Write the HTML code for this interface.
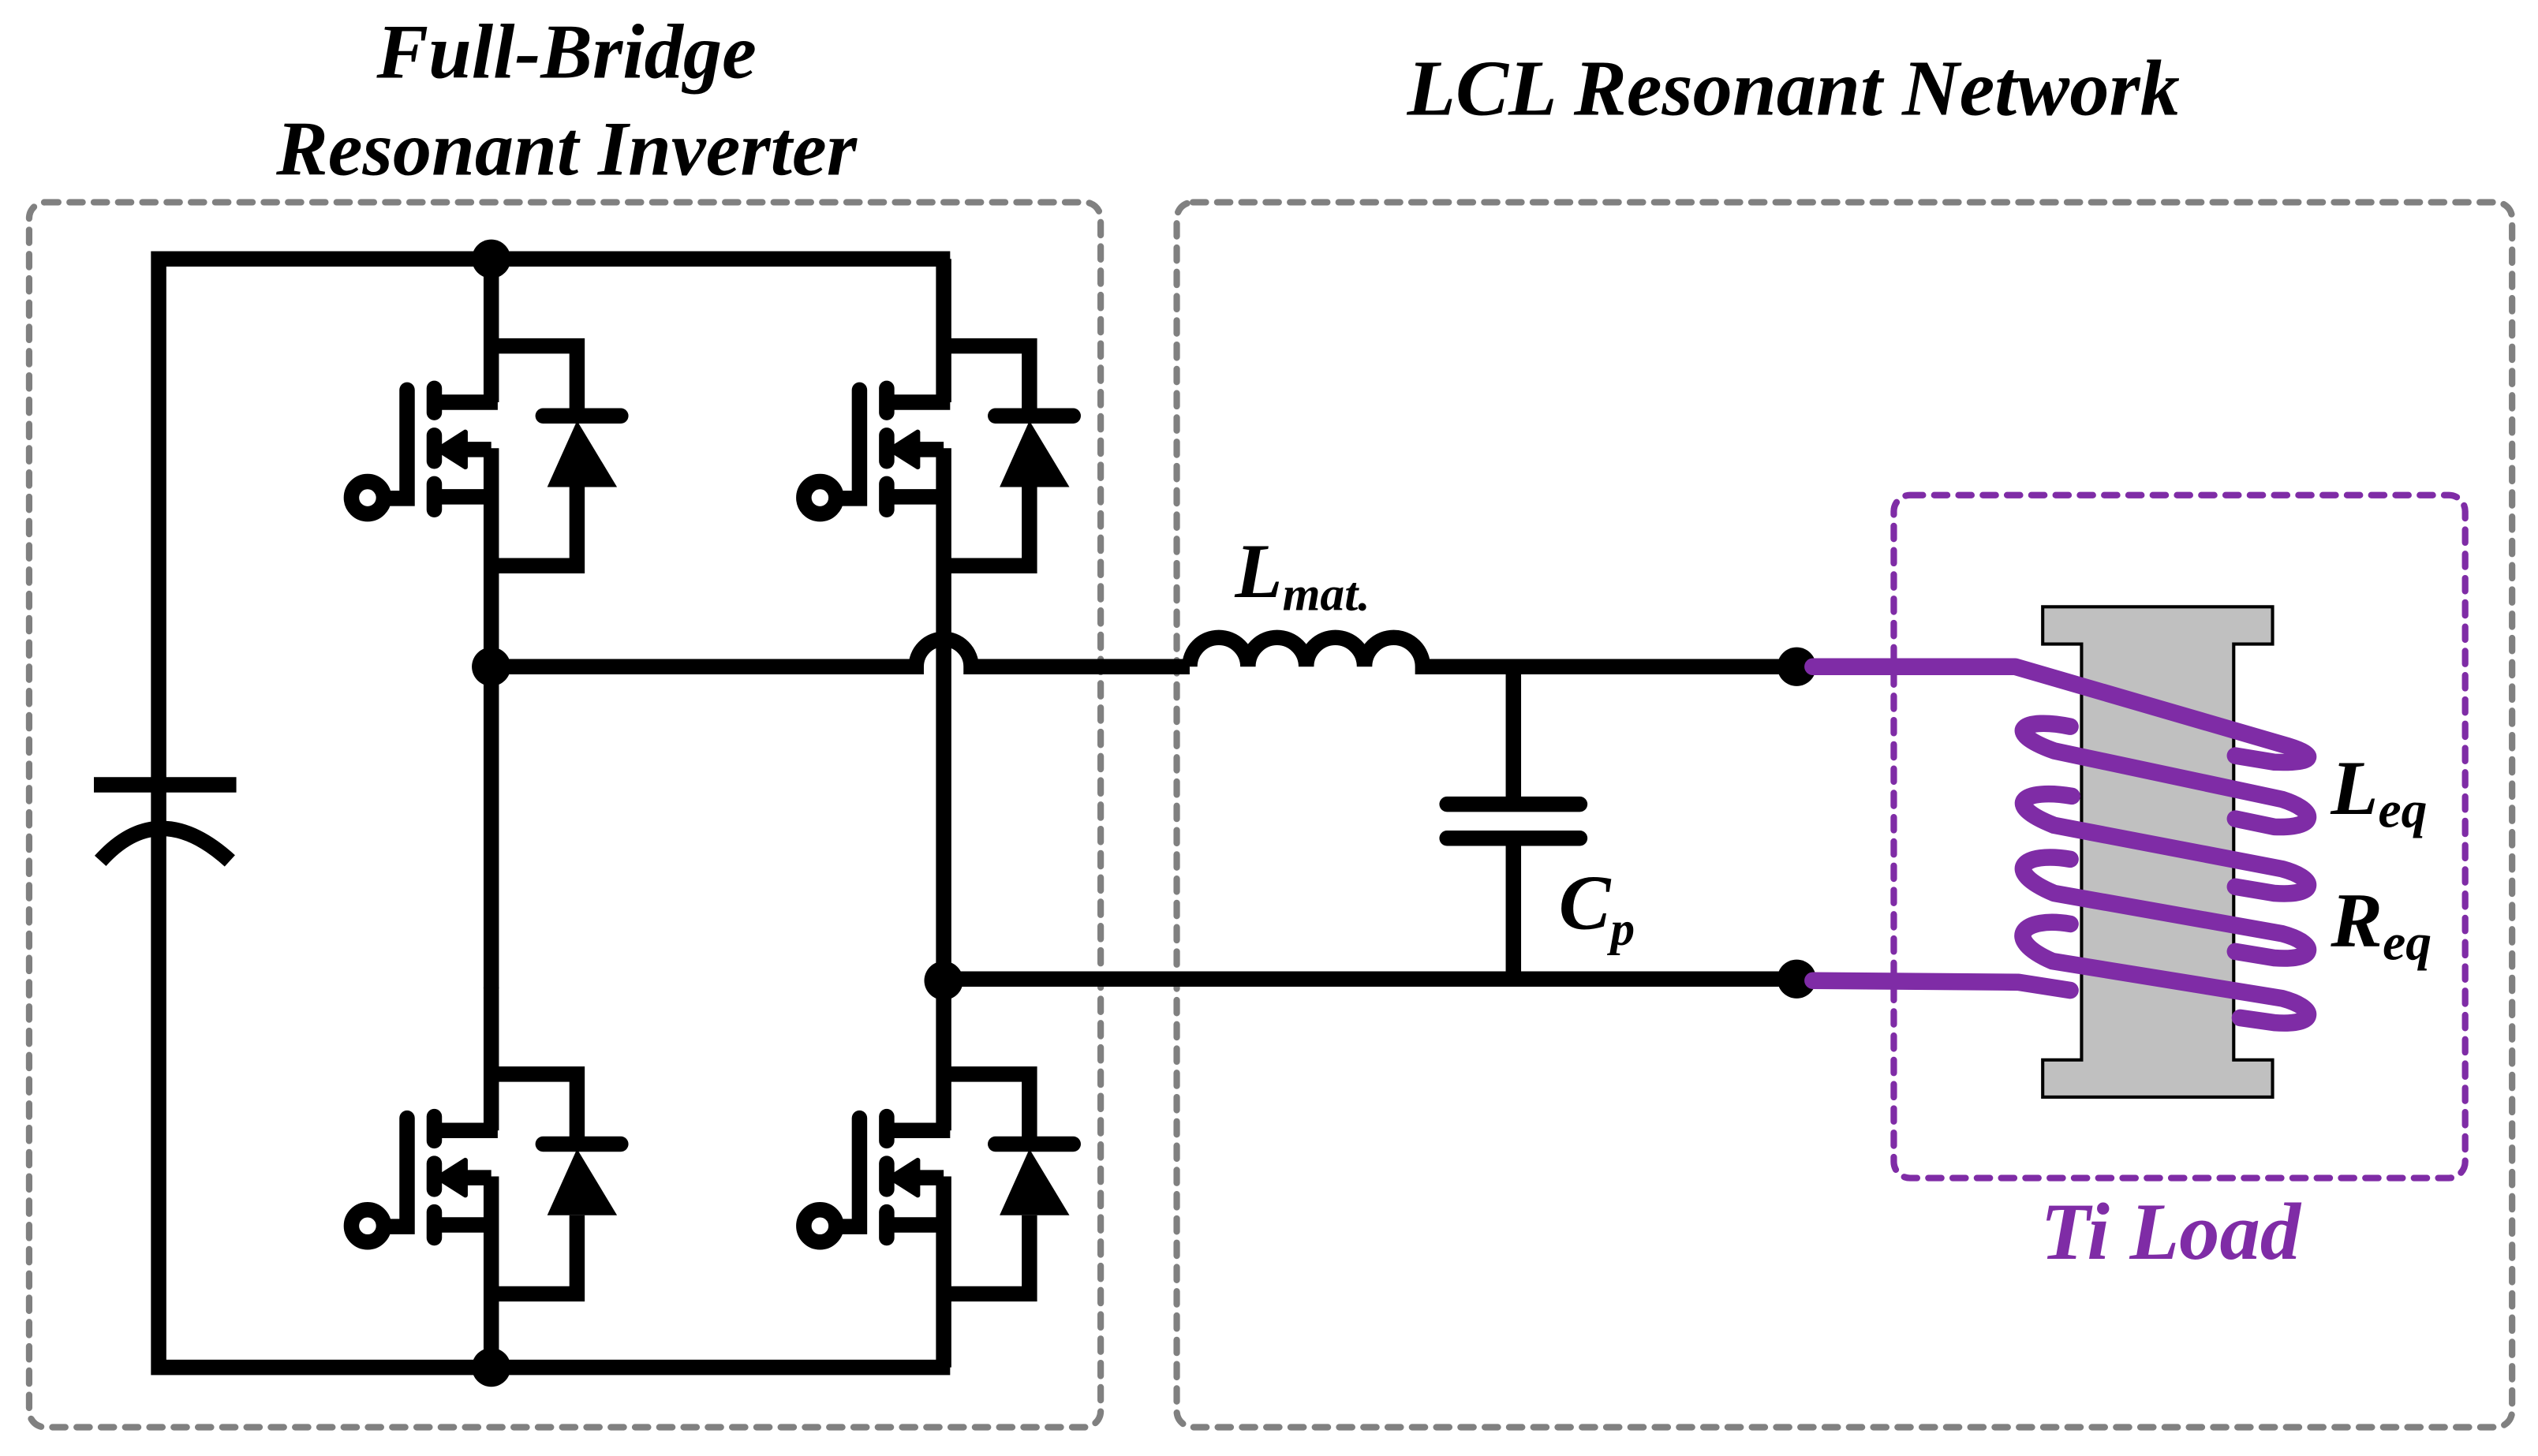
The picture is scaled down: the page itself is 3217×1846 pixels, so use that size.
<!DOCTYPE html>
<html><head><meta charset="utf-8"><style>
html,body{margin:0;padding:0;background:#fff;}
svg{display:block;}
text{font-family:"Liberation Serif",serif;font-weight:bold;font-style:italic;}
</style></head><body>
<svg width="3217" height="1846" viewBox="0 0 1568 899.8" preserveAspectRatio="none" xmlns="http://www.w3.org/2000/svg">
<defs>
<g id="m" stroke="#000" stroke-width="9.5" fill="none">
  <line x1="0" y1="0" x2="0" y2="88.6"/>
  <line x1="-36" y1="88.6" x2="4" y2="88.6"/>
  <line x1="-35.2" y1="80" x2="-35.2" y2="95" stroke-linecap="round"/>
  <line x1="-35.2" y1="109" x2="-35.2" y2="125" stroke-linecap="round"/>
  <line x1="-35.2" y1="139" x2="-35.2" y2="155" stroke-linecap="round"/>
  <line x1="-25" y1="117.8" x2="0" y2="117.8"/>
  <polygon points="-33,117.8 -16,107 -16,128.6" fill="#000" stroke-width="3" stroke-linejoin="round"/>
  <line x1="-35" y1="147" x2="4" y2="147"/>
  <polyline points="-52,81 -52,148 -66,148" stroke-linecap="round"/>
  <circle cx="-76.4" cy="147.6" r="10" fill="#fff"/>
  <polyline points="0,53.8 53,53.8 53,97"/>
  <line x1="32" y1="97" x2="80" y2="97" stroke-linecap="round"/>
  <polygon points="53,100 34.6,141 77.7,141" fill="#000" stroke="none"/>
  <polyline points="53,141 53,189.6 0,189.6"/>
</g>
</defs>
<rect x="18" y="125" width="662" height="757" rx="10" fill="none" stroke="#808080" stroke-width="4" stroke-dasharray="8,7" stroke-linecap="round"/>
<rect x="727" y="125" width="825" height="757" rx="10" fill="none" stroke="#808080" stroke-width="4" stroke-dasharray="8,7" stroke-linecap="round"/>
<rect x="1170" y="306" width="353" height="422" rx="10" fill="none" stroke="#7f2ca6" stroke-width="4" stroke-dasharray="8,7" stroke-linecap="round"/>
<text x="350" y="48" font-size="48" text-anchor="middle">Full-Bridge</text>
<text x="350" y="108" font-size="48" text-anchor="middle">Resonant Inverter</text>
<text x="1108" y="71" font-size="49" text-anchor="middle">LCL Resonant Network</text>
<text x="1341" y="778" font-size="50" text-anchor="middle" fill="#7f2ca6">Ti Load</text>
<g stroke="#000" stroke-width="9.5" fill="none">
  <polyline points="303.5,160 98,160 98,845 303.5,845"/>
  <line x1="303.5" y1="160" x2="587" y2="160"/>
  <line x1="303.5" y1="845" x2="587" y2="845"/>
  <line x1="58" y1="485" x2="146" y2="485"/>
  <path d="M62,532 Q98,492 142,532"/>
  <line x1="303.5" y1="277" x2="303.5" y2="611"/>
  <line x1="303.5" y1="727" x2="303.5" y2="845"/>
  <line x1="583" y1="277" x2="583" y2="611"/>
  <line x1="583" y1="727" x2="583" y2="845"/>
  <path d="M303.5,412 L566,412 A17,17 0 0 1 600,412 L735,412"/>
  <path d="M735,412 a18,18 0 0 1 36,0 a18,18 0 0 1 36,0 a18,18 0 0 1 36,0 a18,18 0 0 1 36,0 L1110,412"/>
  <polyline points="935,412 935,497"/>
  <line x1="894" y1="497" x2="976" y2="497" stroke-linecap="round"/>
  <line x1="894" y1="518" x2="976" y2="518" stroke-linecap="round"/>
  <line x1="935" y1="518" x2="935" y2="605"/>
  <line x1="583" y1="605" x2="1110" y2="605"/>
</g>
<use href="#m" x="303.5" y="160"/>
<use href="#m" x="303.5" y="610"/>
<use href="#m" x="583" y="160"/>
<use href="#m" x="583" y="610"/>
<g fill="#000">
  <circle cx="303.5" cy="160" r="12"/>
  <circle cx="303.5" cy="412" r="12"/>
  <circle cx="303.5" cy="845" r="12"/>
  <circle cx="583" cy="606" r="12"/>
  <circle cx="1110" cy="412" r="12"/>
  <circle cx="1110" cy="605" r="12"/>
</g>
<path d="M1262,375 H1404 V398 H1380 V655 H1404 V678 H1262 V655 H1286 V398 H1262 Z" fill="#c0c0c0" stroke="#000" stroke-width="2"/>
<g stroke="#7f2ca6" stroke-width="10.5" fill="none" stroke-linecap="round" stroke-linejoin="round">
  <path d="M1120,412 L1245,412 L1410,460 C1432,466 1432,472 1405,471 L1381,467"/>
  <path d="M1279,449 C1250,443 1236,452 1269,464 L1410,494 C1432,501 1432,512 1405,511 L1381,506"/>
  <path d="M1280,492 C1250,487 1236,497 1269,510 L1410,537 C1432,543 1432,554 1405,552 L1381,548"/>
  <path d="M1279,531 C1250,526 1236,538 1269,552 L1410,577 C1432,583 1432,594 1405,592 L1381,588"/>
  <path d="M1279,571 C1250,566 1236,580 1268,594 L1410,617 C1432,623 1432,634 1405,632 L1384,629"/>
  <path d="M1120,606 L1247,607 L1279,612"/>
</g>
<text x="763" y="369" font-size="48">L<tspan font-size="30" dy="8">mat.</tspan></text>
<text x="963" y="574" font-size="48">C<tspan font-size="30" dy="10">p</tspan></text>
<text x="1440" y="503" font-size="48">L<tspan font-size="32" dy="8">eq</tspan></text>
<text x="1440" y="585" font-size="48">R<tspan font-size="32" dy="8">eq</tspan></text>
</svg>
</body></html>
